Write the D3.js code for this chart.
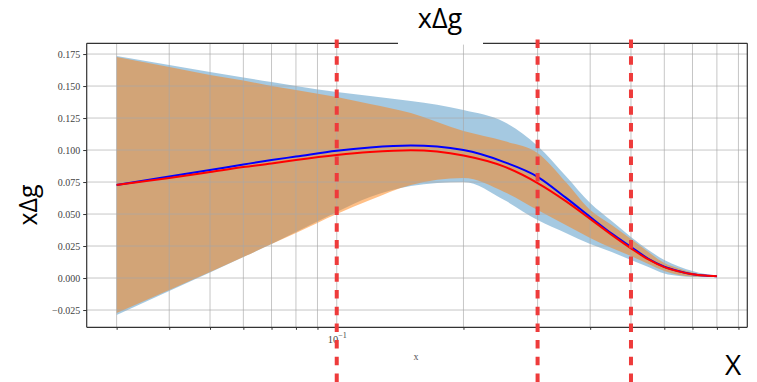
<!DOCTYPE html>
<html>
<head>
<meta charset="utf-8">
<script src="https://cdn.jsdelivr.net/npm/d3@7/dist/d3.min.js"></script>
<style>
  html, body { margin: 0; padding: 0; background: #ffffff; }
  svg { display: block; }
</style>
</head>
<body>
<svg id="chart" width="757" height="382"></svg>
<script>
// Momentum fraction samples (log axis)
const xValues = [0.03, 0.04, 0.05, 0.06, 0.07, 0.08, 0.1, 0.12, 0.15, 0.2, 0.25, 0.3, 0.35, 0.4, 0.45, 0.5, 0.55, 0.6, 0.65, 0.7, 0.75, 0.8];

// Uncertainty band, first fit (blue)
const blueUpper = [0.1734, 0.1664, 0.1609, 0.1566, 0.1531, 0.1500, 0.1453, 0.1422, 0.1383, 0.1313, 0.1219, 0.1031, 0.0797, 0.0586, 0.0445, 0.0320, 0.0219, 0.0141, 0.0090, 0.0055, 0.0031, 0.0016];
const blueLower = [-0.0289, -0.0102, 0.0043, 0.0164, 0.0266, 0.0359, 0.0516, 0.0633, 0.0719, 0.0750, 0.0609, 0.0453, 0.0352, 0.0266, 0.0203, 0.0141, 0.0086, 0.0035, 0.0016, 0.0008, 0.0008, 0.0011];

// Uncertainty band, second fit (orange)
const orangeUpper = [0.1727, 0.1648, 0.1586, 0.1543, 0.1500, 0.1469, 0.1414, 0.1359, 0.1289, 0.1148, 0.1070, 0.0977, 0.0750, 0.0531, 0.0414, 0.0305, 0.0203, 0.0117, 0.0074, 0.0043, 0.0023, 0.0014];
const orangeLower = [-0.0273, -0.0094, 0.0047, 0.0164, 0.0266, 0.0352, 0.0500, 0.0609, 0.0727, 0.0781, 0.0672, 0.0531, 0.0414, 0.0313, 0.0234, 0.0172, 0.0109, 0.0055, 0.0023, 0.0012, 0.0009, 0.0011];

// Central curves
const blueLine = [0.0727, 0.0793, 0.0844, 0.0887, 0.0922, 0.0949, 0.0995, 0.1020, 0.1035, 0.1000, 0.0906, 0.0791, 0.0628, 0.0477, 0.0347, 0.0243, 0.0150, 0.0088, 0.0053, 0.0030, 0.0019, 0.0013];
const redLine  = [0.0727, 0.0781, 0.0828, 0.0867, 0.0895, 0.0922, 0.0961, 0.0984, 0.0998, 0.0957, 0.0870, 0.0742, 0.0601, 0.0462, 0.0337, 0.0232, 0.0145, 0.0085, 0.0052, 0.0030, 0.0019, 0.0013];

// Axis ticks
const yTicks = [-0.025, 0.0, 0.025, 0.05, 0.075, 0.1, 0.125, 0.15, 0.175];
const xMajorTicks = [0.1];
const xMinorTicks = [0.03, 0.04, 0.05, 0.06, 0.07, 0.08, 0.09, 0.2, 0.3, 0.4, 0.5, 0.6, 0.7, 0.8, 0.9];

// Vertical markers
const markerXs = [0.1, 0.3, 0.5];

const titleText = "xΔg";
const yLabelText = "xΔg";
const xLabelText = "x";
const bigXText = "X";

const svg = d3.select("#chart");

const plot = { left: 86.7, right: 747.3, top: 43.3, bottom: 327.3 };

const x = d3.scaleLog().domain([0.02547, 0.9447]).range([plot.left, plot.right]);
const y = d3.scaleLinear().domain([-0.0385, 0.1834]).range([plot.bottom, plot.top]);

const rows = xValues.map((xv, i) => ({
  x: xv, bu: blueUpper[i], bl: blueLower[i], ou: orangeUpper[i], ol: orangeLower[i],
  b: blueLine[i], r: redLine[i]
}));

const curve = d3.curveMonotoneX;

// Bands
const blueArea = d3.area().curve(curve).x(d => x(d.x)).y0(d => y(d.bl)).y1(d => y(d.bu));
const orangeArea = d3.area().curve(curve).x(d => x(d.x)).y0(d => y(d.ol)).y1(d => y(d.ou));

svg.append("path").datum(rows).attr("d", blueArea)
  .attr("fill", "#1f77b4").attr("fill-opacity", 0.4);
svg.append("path").datum(rows).attr("d", orangeArea)
  .attr("fill", "#ff7f0e").attr("fill-opacity", 0.5);

// Grid
const grid = svg.append("g").attr("stroke", "#a8a8a8").attr("stroke-opacity", 0.65).attr("stroke-width", 1);
grid.selectAll("line.gx").data(xMajorTicks.concat(xMinorTicks)).join("line")
  .attr("x1", d => x(d)).attr("x2", d => x(d))
  .attr("y1", plot.top).attr("y2", plot.bottom);
grid.selectAll("line.gy").data(yTicks).join("line")
  .attr("x1", plot.left).attr("x2", plot.right)
  .attr("y1", d => y(d)).attr("y2", d => y(d));

// Central lines
const lineGen = key => d3.line().curve(curve).x(d => x(d.x)).y(d => y(d[key]));
svg.append("path").datum(rows).attr("d", lineGen("b"))
  .attr("fill", "none").attr("stroke", "#0000ff").attr("stroke-width", 2);
svg.append("path").datum(rows).attr("d", lineGen("r"))
  .attr("fill", "none").attr("stroke", "#ff0000").attr("stroke-width", 2);

// Y axis
const yAxis = d3.axisLeft(y).tickValues(yTicks).tickSize(3.5).tickPadding(3)
  .tickFormat(d3.format(".3f"));
const gy = svg.append("g").attr("transform", `translate(${plot.left},0)`).call(yAxis);
gy.select(".domain").remove();
gy.selectAll(".tick line").attr("stroke", "#333");
gy.selectAll(".tick text").attr("font-family", "'Liberation Serif', serif")
  .attr("font-size", 10).attr("fill", "#444");

// X axis: minor ticks
const xAxisMinor = d3.axisBottom(x).tickValues(xMinorTicks).tickSize(2.5).tickFormat("");
const gxm = svg.append("g").attr("transform", `translate(0,${plot.bottom})`).call(xAxisMinor);
gxm.select(".domain").remove();
gxm.selectAll(".tick line").attr("stroke", "#333");

// X axis: major ticks with 10^n labels
const xAxisMajor = d3.axisBottom(x).tickValues(xMajorTicks).tickSize(3.5).tickFormat("");
const gxM = svg.append("g").attr("transform", `translate(0,${plot.bottom})`).call(xAxisMajor);
gxM.select(".domain").remove();
gxM.selectAll(".tick line").attr("stroke", "#333");
gxM.selectAll(".tick").append("text")
  .attr("y", 16).attr("fill", "#444")
  .attr("font-family", "'Liberation Serif', serif").attr("font-size", 10.5)
  .attr("text-anchor", "middle")
  .each(function(d) {
    const t = d3.select(this);
    t.append("tspan").text("10");
    t.append("tspan").attr("dy", -5).attr("font-size", 8).text("\u2212" + Math.abs(Math.round(Math.log10(d))));
  });

// Spines
const spine = svg.append("g").attr("stroke", "#333").attr("stroke-width", 1.2).attr("fill", "none");
spine.append("line").attr("x1", plot.left).attr("x2", plot.right).attr("y1", plot.bottom).attr("y2", plot.bottom);
spine.append("line").attr("x1", plot.left).attr("x2", plot.left).attr("y1", plot.top).attr("y2", plot.bottom);
spine.append("line").attr("x1", plot.right).attr("x2", plot.right).attr("y1", plot.top).attr("y2", plot.bottom);
spine.append("line").attr("x1", plot.left).attr("x2", plot.right).attr("y1", plot.top).attr("y2", plot.top);

// Title panel
svg.append("rect").attr("x", 398).attr("y", 0).attr("width", 85).attr("height", 44.6).attr("fill", "#ffffff");
svg.append("text").attr("x", 440).attr("y", 28)
  .attr("text-anchor", "middle").attr("font-family", "'Open Sans', sans-serif")
  .attr("font-size", 27).attr("fill", "#000").text(titleText);

// Small x label
svg.append("text").attr("x", 416).attr("y", 360)
  .attr("text-anchor", "middle").attr("font-family", "'Liberation Serif', serif")
  .attr("font-size", 10).attr("fill", "#555").text(xLabelText);

// Large axis labels
svg.append("text").attr("transform", "translate(37,205) rotate(-90)")
  .attr("text-anchor", "middle").attr("font-family", "'Open Sans', sans-serif")
  .attr("font-size", 25).attr("fill", "#000").text(yLabelText);
svg.append("text").attr("x", 733).attr("y", 375)
  .attr("text-anchor", "middle").attr("font-family", "'Open Sans', sans-serif")
  .attr("font-size", 28).attr("fill", "#000").text(bigXText);

// Dashed markers
svg.selectAll("line.marker").data(markerXs).join("line")
  .attr("class", "marker")
  .attr("x1", d => x(d)).attr("x2", d => x(d))
  .attr("y1", 39.5).attr("y2", 382)
  .attr("stroke", "#ee3b3b").attr("stroke-width", 4)
  .attr("stroke-dasharray", "8.5 8.2");
</script>
</body>
</html>
